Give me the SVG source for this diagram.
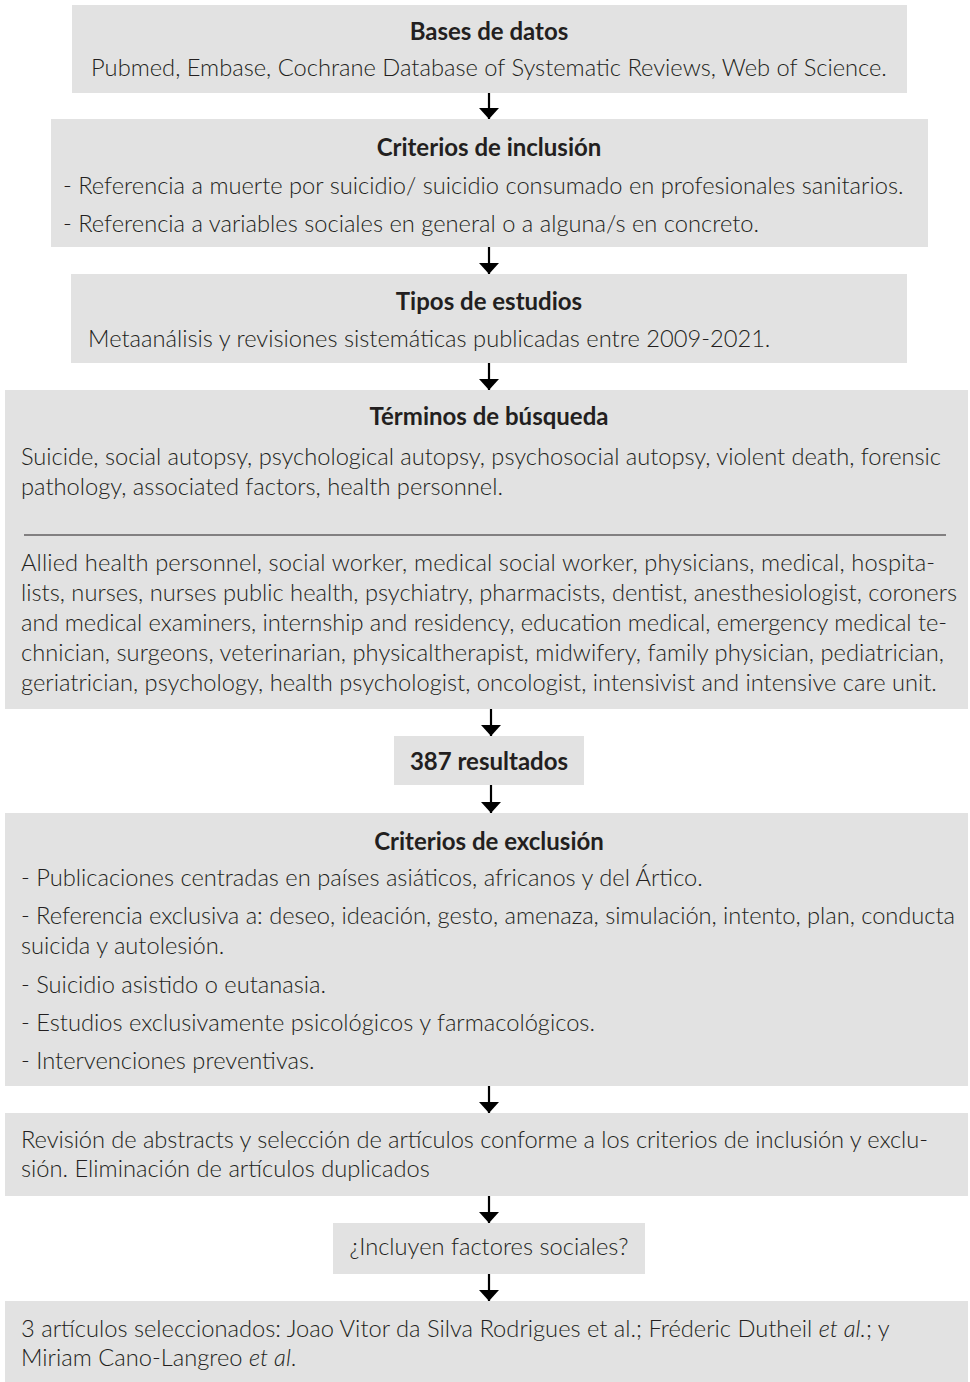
<svg xmlns="http://www.w3.org/2000/svg" width="970" height="1382" viewBox="0 0 970 1382">
<defs>
<style>
.box{fill:#e2e2e2;}
text{font-family:Lato,"Liberation Sans",sans-serif;font-size:23.7px;font-weight:300;fill:#231f20;}
.t{font-weight:bold;font-size:24px;text-anchor:middle;}
.c{text-anchor:middle;}
.conn line{stroke:#000;stroke-width:2.2;}
</style>
<marker id="ah" viewBox="0 0 11 20" refX="11" refY="10" markerWidth="11" markerHeight="20" markerUnits="userSpaceOnUse" orient="auto">
<path d="M0,0 L11,10 L0,20 Z" fill="#000"/>
</marker>
</defs>
<rect width="970" height="1382" fill="#fff"/>
<g id="n1"><rect class="box" x="72" y="5" width="835" height="88"/>
<text class="t" x="489" y="40">Bases de datos</text>
<text class="c" x="489" y="76">Pubmed, Embase, Cochrane Database of Systematic Reviews, Web of Science.</text></g>
<g id="n2"><rect class="box" x="51" y="119" width="877" height="128"/>
<text class="t" x="489" y="156">Criterios de inclusión</text>
<text x="63" y="194">- Referencia a muerte por suicidio/ suicidio consumado en profesionales sanitarios.</text>
<text x="63" y="232">- Referencia a variables sociales en general o a alguna/s en concreto.</text></g>
<g id="n3"><rect class="box" x="71" y="274" width="836" height="89"/>
<text class="t" x="489" y="310">Tipos de estudios</text>
<text x="88" y="347">Metaanálisis y revisiones sistemáticas publicadas entre 2009-2021.</text></g>
<g id="n4"><rect class="box" x="5" y="390" width="963" height="319"/>
<text class="t" x="489" y="425">Términos de búsqueda</text>
<text x="21" y="465" textLength="920" lengthAdjust="spacing">Suicide, social autopsy, psychological autopsy, psychosocial autopsy, violent death, forensic</text>
<text x="21" y="495">pathology, associated factors, health personnel.</text>
<line x1="24" y1="535" x2="946" y2="535" stroke="#231f20" stroke-width="1"/>
<text x="21" y="571" textLength="914" lengthAdjust="spacing">Allied health personnel, social worker, medical social worker, physicians, medical, hospita-</text>
<text x="21" y="601" textLength="936" lengthAdjust="spacing">lists, nurses, nurses public health, psychiatry, pharmacists, dentist, anesthesiologist, coroners</text>
<text x="21" y="631" textLength="926" lengthAdjust="spacing">and medical examiners, internship and residency, education medical, emergency medical te-</text>
<text x="21" y="661" textLength="923" lengthAdjust="spacing">chnician, surgeons, veterinarian, physicaltherapist, midwifery, family physician, pediatrician,</text>
<text x="21" y="691">geriatrician, psychology, health psychologist, oncologist, intensivist and intensive care unit.</text></g>
<g id="n5"><rect class="box" x="394" y="736" width="190" height="49"/>
<text class="t" x="489" y="770">387 resultados</text></g>
<g id="n6"><rect class="box" x="5" y="813" width="963" height="273"/>
<text class="t" x="489" y="850">Criterios de exclusión</text>
<text x="21" y="886">- Publicaciones centradas en países asiáticos, africanos y del Ártico.</text>
<text x="21" y="924" textLength="934" lengthAdjust="spacing">- Referencia exclusiva a: deseo, ideación, gesto, amenaza, simulación, intento, plan, conducta</text>
<text x="21" y="954">suicida y autolesión.</text>
<text x="21" y="993">- Suicidio asistido o eutanasia.</text>
<text x="21" y="1031">- Estudios exclusivamente psicológicos y farmacológicos.</text>
<text x="21" y="1069">- Intervenciones preventivas.</text></g>
<g id="n7"><rect class="box" x="5" y="1113" width="963" height="83"/>
<text x="21" y="1148" textLength="907" lengthAdjust="spacing">Revisión de abstracts y selección de artículos conforme a los criterios de inclusión y exclu-</text>
<text x="21" y="1177">sión. Eliminación de artículos duplicados</text></g>
<g id="n8"><rect class="box" x="333" y="1223" width="312" height="51"/>
<text class="c" x="489" y="1255">¿Incluyen factores sociales?</text></g>
<g id="n9"><rect class="box" x="5" y="1301" width="963" height="81"/>
<text x="21" y="1337">3 artículos seleccionados: Joao Vitor da Silva Rodrigues et al.; Fréderic Dutheil <tspan font-style="italic">et al.</tspan>; y</text>
<text x="21" y="1366">Miriam Cano-Langreo <tspan font-style="italic">et al</tspan>.</text></g>
<g id="connectors" class="conn">
<line x1="489" y1="93" x2="489" y2="119" marker-end="url(#ah)"/>
<line x1="489" y1="247" x2="489" y2="274" marker-end="url(#ah)"/>
<line x1="489" y1="363" x2="489" y2="390" marker-end="url(#ah)"/>
<line x1="491" y1="709" x2="491" y2="736" marker-end="url(#ah)"/>
<line x1="491" y1="785" x2="491" y2="813" marker-end="url(#ah)"/>
<line x1="489" y1="1086" x2="489" y2="1113" marker-end="url(#ah)"/>
<line x1="489" y1="1196" x2="489" y2="1223" marker-end="url(#ah)"/>
<line x1="489" y1="1274" x2="489" y2="1301" marker-end="url(#ah)"/>
</g>
</svg>
